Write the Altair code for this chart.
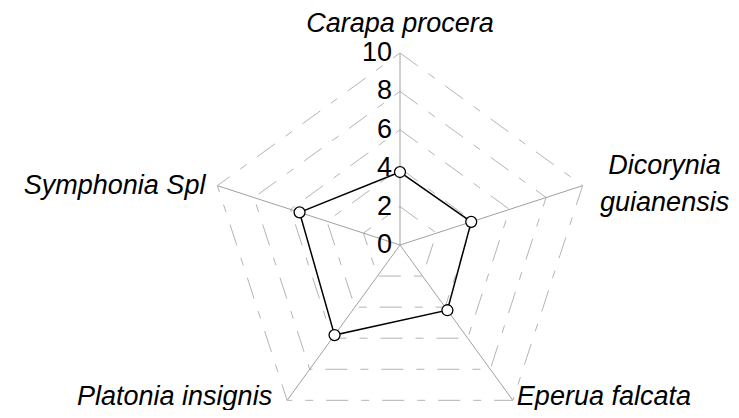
import altair as alt
import pandas as pd

categories = ["Carapa procera", "Dicorynia guianensis", "Eperua falcata", "Platonia insignis", "Symphonia Spl"]
values = [3.8, 3.9, 4.2, 5.8, 5.5]
ticks = [0, 2, 4, 6, 8, 10]
n = len(categories)

W, H = 723, 402
CX, CY = 392, 237
PX = 19.2  # pixels per unit
xdom = [-CX / PX, (W - CX) / PX]
ydom = [-(H - CY) / PX, CY / PX]
xs = alt.Scale(domain=xdom, nice=False, zero=False)
ys = alt.Scale(domain=ydom, nice=False, zero=False)
noax = None

ang = "PI/2 - 2*PI*datum.i/%d" % n

# grid polygons
grid_rows = []
for t in ticks[1:]:
    for i in range(n + 1):
        grid_rows.append({"level": t, "i": i % n, "o": i})
grid = alt.Chart(pd.DataFrame(grid_rows)).transform_calculate(
    x=f"datum.level*cos({ang})", y=f"datum.level*sin({ang})"
).mark_line(color="#b4b4b4", strokeWidth=1, strokeDash=[22, 13, 8, 13]).encode(
    x=alt.X("x:Q", scale=xs, axis=noax),
    y=alt.Y("y:Q", scale=ys, axis=noax),
    detail="level:N",
    order="o:Q",
)

# spokes
spoke_df = pd.DataFrame({"i": list(range(n)), "r": [ticks[-1]] * n})
spokes = alt.Chart(spoke_df).transform_calculate(
    x=f"datum.r*cos({ang})", y=f"datum.r*sin({ang})", x0="0", y0="0"
).mark_rule(color="#a0a0a0", strokeWidth=1).encode(
    x=alt.X("x0:Q", scale=xs, axis=noax),
    y=alt.Y("y0:Q", scale=ys, axis=noax),
    x2="x:Q",
    y2="y:Q",
)

# data polygon
data_rows = [{"cat": categories[i % n], "v": values[i % n], "i": i % n, "o": i} for i in range(n + 1)]
ddf = pd.DataFrame(data_rows)
base = alt.Chart(ddf).transform_calculate(
    x=f"datum.v*cos({ang})", y=f"datum.v*sin({ang})"
)
line = base.mark_line(color="black", strokeWidth=1.5).encode(
    x=alt.X("x:Q", scale=xs, axis=noax),
    y=alt.Y("y:Q", scale=ys, axis=noax),
    order="o:Q",
)
pts = base.transform_filter("datum.o < %d" % n).mark_point(
    filled=True, fill="white", stroke="black", strokeWidth=1.3, size=120, opacity=1
).encode(
    x=alt.X("x:Q", scale=xs, axis=noax),
    y=alt.Y("y:Q", scale=ys, axis=noax),
)

FONT = "Liberation Sans"
FS = 27

# tick labels
tick_df = pd.DataFrame({"t": ticks, "lab": [str(t) for t in ticks]})
tick_text = alt.Chart(tick_df).mark_text(
    align="right", baseline="middle", font=FONT, fontSize=FS, dx=-8, color="black"
).encode(
    x=alt.value(CX),
    y=alt.Y("t:Q", scale=ys, axis=noax),
    text="lab:N",
)

# category labels
label_specs = [
    (0, dict(align="center", baseline="alphabetic", dy=-21)),
    (1, dict(align="center", baseline="middle", dx=82, dy=-20, lineBreak="\n", lineHeight=37)),
    (2, dict(align="left", baseline="alphabetic", dx=4, dy=5)),
    (3, dict(align="right", baseline="alphabetic", dx=-15, dy=5)),
    (4, dict(align="right", baseline="middle", dx=-12, dy=0)),
]
label_layers = []
for i, props in label_specs:
    txt = categories[i]
    if i == 1:
        txt = txt.replace(" ", "\n")
    ldf = pd.DataFrame({"i": [i], "r": [ticks[-1]], "lab": [txt]})
    label_layers.append(
        alt.Chart(ldf).transform_calculate(
            x=f"datum.r*cos({ang})", y=f"datum.r*sin({ang})"
        ).mark_text(font=FONT, fontSize=FS, fontStyle="italic", color="black", **props).encode(
            x=alt.X("x:Q", scale=xs, axis=noax),
            y=alt.Y("y:Q", scale=ys, axis=noax),
            text="lab:N",
        )
    )

chart = alt.layer(grid, spokes, line, pts, tick_text, *label_layers).properties(
    width=W, height=H, padding=0, autosize=alt.AutoSizeParams(type="none")
).configure_view(stroke=None)

chart.save("out.html", embed_options={"renderer": "svg", "actions": False})
